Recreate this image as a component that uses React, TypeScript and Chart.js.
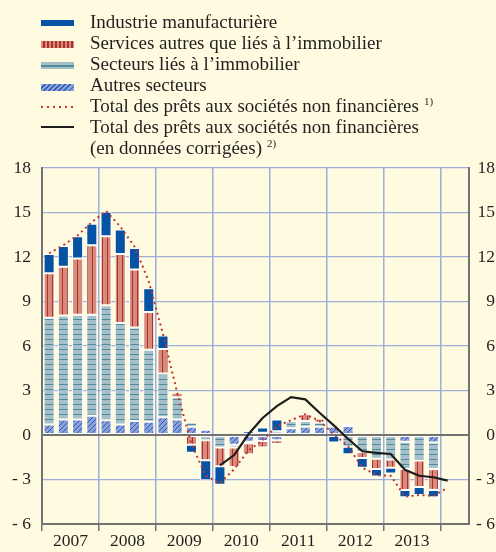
import React, { useEffect, useRef } from 'react';
import { Chart, registerables } from 'chart.js';

Chart.register(...registerables);

// ---- Data (annual growth contributions, percentage points) ----
const quarters = [
  '2007 T1', '2007 T2', '2007 T3', '2007 T4',
  '2008 T1', '2008 T2', '2008 T3', '2008 T4',
  '2009 T1', '2009 T2', '2009 T3', '2009 T4',
  '2010 T1', '2010 T2', '2010 T3', '2010 T4',
  '2011 T1', '2011 T2', '2011 T3', '2011 T4',
  '2012 T1', '2012 T2', '2012 T3', '2012 T4',
  '2013 T1', '2013 T2', '2013 T3', '2013 T4',
  '2014 T1',
];
const years = ['2007', '2008', '2009', '2010', '2011', '2012', '2013'];
const yTicks = [-6, -3, 0, 3, 6, 9, 12, 15, 18];

const industrie = [1.3, 1.4, 1.5, 1.45, 1.65, 1.65, 1.45, 1.6, 0.9, 0, -0.55, -1.35, -1.25, 0, 0.25, 0.35, 0.8, 0, 0.1, 0, -0.5, -0.5, -0.65, -0.5, -0.4, -0.5, -0.55, -0.5];
const services = [3.0, 3.3, 3.8, 4.7, 4.65, 4.65, 3.9, 2.55, 1.65, 0.3, -0.65, -1.35, -1.25, -1.3, -0.75, -0.45, -0.25, 0, 0.45, 0.25, 0.15, 0.15, -0.4, -0.7, -0.55, -1.4, -1.78, -1.4];
const immobilier = [7.2, 7.0, 7.05, 6.8, 7.75, 6.85, 6.3, 4.85, 2.95, 1.5, 0.3, -0.35, -0.85, -0.2, -0.1, 0.15, 0.25, 0.5, 0.4, 0.3, 0, -0.8, -1.15, -1.6, -1.65, -1.85, -1.72, -1.8];
const autres = [0.7, 1.05, 1.05, 1.3, 1.0, 0.7, 0.95, 0.9, 1.2, 1.05, 0.55, 0.35, 0, -0.65, -0.45, -0.4, -0.35, 0.45, 0.55, 0.55, 0.55, 0.6, 0, 0, 0, -0.45, 0, -0.5];
const totalPrets = [12.25, 12.8, 13.45, 14.35, 15.1, 14.05, 12.7, 10.35, 6.8, 2.85, -0.6, -2.75, -3.25, -2.3, -1.05, -0.35, 0.6, 1.0, 1.4, 0.95, 0.05, -0.75, -2.2, -2.7, -2.75, -4.15, -4.05, -4.1, -3.55];
const totalCorriges = [null, null, null, null, null, null, null, null, null, null, null, null, -2.05, -1.35, 0.05, 1.15, 1.95, 2.55, 2.4, 1.5, 0.65, -0.25, -1.1, -1.2, -1.28, -2.35, -2.75, -2.85, -3.08];

const LBL_IND = 'Industrie manufacturière';
const LBL_SERV = 'Services autres que liés à l’immobilier';
const LBL_IMMO = 'Secteurs liés à l’immobilier';
const LBL_AUT = 'Autres secteurs';
const LBL_TOT = 'Total des prêts aux sociétés non financières';
const LBL_TOT2 = '(en données corrigées)';

// ---- Styles ----
const FONT = "'Liberation Serif', 'Times New Roman', serif";
const TEXT = '#231f20';
const BG = '#fffbe0';
const GRID = '#9eaedb';
const AXIS = '#727272';
const BLUE = '#0652a4';
const PINK = '#d68b7c';
const PINK_STRIPE = '#b0302a';
const IMMO_LIGHT = '#a6c0c9';
const IMMO_DARK = '#4e8b9b';
const AUT_FILL = '#8aa0d8';
const AUT_LINE = '#2f5ab2';
const RED = '#c2342c';
const BLACK = '#1d1d1b';

function makePattern(w: number, h: number, bg: string, fg: string, draw: (g: CanvasRenderingContext2D) => void) {
  const c = document.createElement('canvas');
  c.width = w;
  c.height = h;
  const g = c.getContext('2d') as CanvasRenderingContext2D;
  g.fillStyle = bg;
  g.fillRect(0, 0, w, h);
  g.fillStyle = fg;
  draw(g);
  return g.createPattern(c, 'repeat') as CanvasPattern;
}

const toPoints = (vals: (number | null)[]) => vals.map((v, i) => ({ x: i + 0.5, y: v }));

function Swatch({ kind }: { kind: string }) {
  const base: React.CSSProperties = { position: 'absolute', left: 41, width: 33 };
  if (kind === 'ind') return <span style={{ ...base, top: 9, height: 6, background: BLUE }} />;
  if (kind === 'serv')
    return (
      <span
        style={{
          ...base,
          top: 9,
          height: 7,
          background: `repeating-linear-gradient(90deg, ${PINK} 0px, ${PINK} 2.5px, ${PINK_STRIPE} 2.5px, ${PINK_STRIPE} 4px)`,
        }}
      />
    );
  if (kind === 'immo')
    return (
      <span
        style={{
          ...base,
          top: 9,
          height: 7,
          background: `linear-gradient(to bottom, ${IMMO_LIGHT} 0px, ${IMMO_LIGHT} 2.5px, ${IMMO_DARK} 2.5px, ${IMMO_DARK} 4.5px, ${IMMO_LIGHT} 4.5px, ${IMMO_LIGHT} 7px)`,
        }}
      />
    );
  if (kind === 'aut')
    return (
      <span
        style={{
          ...base,
          top: 10,
          height: 7,
          background: `repeating-linear-gradient(135deg, ${AUT_FILL} 0px, ${AUT_FILL} 2.5px, ${AUT_LINE} 2.5px, ${AUT_LINE} 3.6px)`,
        }}
      />
    );
  if (kind === 'dot')
    return (
      <span
        style={{
          ...base,
          top: 11,
          height: 2,
          background: `repeating-linear-gradient(90deg, ${RED} 0px, ${RED} 2px, transparent 2px, transparent 6px)`,
        }}
      />
    );
  if (kind === 'line') return <span style={{ ...base, top: 10.5, height: 2, background: BLACK }} />;
  return null;
}

const sup: React.CSSProperties = { fontSize: 11, position: 'relative', top: -7, marginLeft: 5 };

function Legend() {
  const rows: { kind: string; text: string; note?: string }[] = [
    { kind: 'ind', text: LBL_IND },
    { kind: 'serv', text: LBL_SERV },
    { kind: 'immo', text: LBL_IMMO },
    { kind: 'aut', text: LBL_AUT },
    { kind: 'dot', text: LBL_TOT, note: '1)' },
    { kind: 'line', text: LBL_TOT },
    { kind: '', text: LBL_TOT2, note: '2)' },
  ];
  return (
    <div style={{ position: 'absolute', left: 0, top: 0, width: 496, height: 160, fontFamily: FONT, color: TEXT }}>
      {rows.map((r, k) => (
        <div key={k} style={{ position: 'absolute', left: 0, top: 11 + k * 20.95, width: 496, height: 21 }}>
          <Swatch kind={r.kind} />
          <span style={{ position: 'absolute', left: 90, top: 0, fontSize: 19, lineHeight: '21px', whiteSpace: 'nowrap' }}>
            {r.text}
            {r.note ? <span style={sup}>{r.note}</span> : null}
          </span>
        </div>
      ))}
    </div>
  );
}

export default function App() {
  const canvasRef = useRef<HTMLCanvasElement>(null);

  useEffect(() => {
    const canvas = canvasRef.current;
    if (!canvas) return;

    const patServ = makePattern(5, 1, PINK, PINK_STRIPE, (g) => g.fillRect(2, 0, 1, 1));
    const patImmo = makePattern(1, 5, IMMO_LIGHT, IMMO_DARK, (g) => g.fillRect(0, 4, 1, 1));
    const patAut = makePattern(5, 5, AUT_FILL, AUT_LINE, (g) => {
      for (let i = 0; i < 5; i++) g.fillRect(i, 4 - i, 1, 1);
    });

    const barCommon = {
      type: 'bar' as const,
      borderColor: '#ffffff',
      borderWidth: 1,
      borderSkipped: false as const,
      stack: 'secteurs',
      barPercentage: 0.97,
      categoryPercentage: 0.8,
    };

    const tickFont = { family: FONT, size: 17.5, lineHeight: 1.2 };
    const fmt = (v: number | string) => {
      const n = Number(v);
      return n < 0 ? '- ' + Math.abs(n) : String(n);
    };

    const chart = new Chart(canvas, {
      type: 'bar',
      data: {
        labels: quarters,
        datasets: [
          {
            type: 'line',
            label: LBL_TOT + ' 1)',
            data: toPoints(totalPrets),
            borderColor: RED,
            borderWidth: 2,
            borderDash: [2, 3.5],
            pointRadius: 0,
            fill: false,
            tension: 0,
            stack: 'total1',
          } as any,
          {
            type: 'line',
            label: LBL_TOT + ' ' + LBL_TOT2 + ' 2)',
            data: toPoints(totalCorriges),
            borderColor: BLACK,
            borderWidth: 2.2,
            pointRadius: 0,
            fill: false,
            tension: 0,
            stack: 'total2',
          } as any,
          { ...barCommon, label: LBL_AUT, data: toPoints(autres), backgroundColor: patAut } as any,
          { ...barCommon, label: LBL_IMMO, data: toPoints(immobilier), backgroundColor: patImmo } as any,
          { ...barCommon, label: LBL_SERV, data: toPoints(services), backgroundColor: patServ } as any,
          { ...barCommon, label: LBL_IND, data: toPoints(industrie), backgroundColor: BLUE } as any,
        ],
      },
      options: {
        responsive: false,
        animation: false,
        layout: { padding: { top: 168, bottom: 0, left: 0, right: 1 } },
        plugins: { legend: { display: false }, tooltip: { enabled: false } },
        scales: {
          x: {
            type: 'linear',
            min: 0,
            max: quarters.length + 1,
            offset: false,
            stacked: true,
            afterBuildTicks: (s: any) => {
              const t: { value: number }[] = [];
              for (let v = 0; v <= years.length * 4; v += 2) t.push({ value: v });
              s.ticks = t;
            },
            ticks: {
              autoSkip: false,
              maxRotation: 0,
              minRotation: 0,
              padding: 0,
              color: TEXT,
              font: tickFont,
              callback: (v: any) => {
                const q = Number(v);
                return q % 4 === 2 ? years[(q - 2) / 4] ?? '' : '';
              },
            },
            grid: {
              offset: false,
              color: (c: any) => (c.tick && c.tick.value % 4 === 0 && c.tick.value > 0 ? GRID : 'rgba(0,0,0,0)'),
              lineWidth: 1.5,
              tickColor: (c: any) => (c.tick && c.tick.value % 4 === 0 ? AXIS : 'rgba(0,0,0,0)'),
              tickLength: 7,
              tickWidth: 1.5,
            },
            border: { color: AXIS, width: 2 },
          },
          y: {
            stacked: true,
            min: yTicks[0],
            max: yTicks[yTicks.length - 1],
            afterBuildTicks: (s: any) => {
              s.ticks = yTicks.map((v) => ({ value: v }));
            },
            afterFit: (s: any) => {
              s.width = 42;
            },
            ticks: { padding: 11, color: TEXT, font: tickFont, callback: fmt },
            grid: {
              color: (c: any) => (c.tick && (c.tick.value === 0 || c.tick.value === yTicks[0]) ? AXIS : GRID),
              lineWidth: (c: any) => (c.tick && c.tick.value === 0 ? 2 : 1.3),
              drawTicks: false,
            },
            border: { color: AXIS, width: 2 },
          },
          y2: {
            position: 'right',
            min: yTicks[0],
            max: yTicks[yTicks.length - 1],
            afterBuildTicks: (s: any) => {
              s.ticks = yTicks.map((v) => ({ value: v }));
            },
            afterFit: (s: any) => {
              s.width = 26;
            },
            ticks: { padding: 8, crossAlign: 'far', color: TEXT, font: tickFont, callback: fmt },
            grid: { display: false, drawTicks: false },
            border: { color: AXIS, width: 2 },
          },
        },
      } as any,
    });

    return () => chart.destroy();
  }, []);

  return (
    <div style={{ position: 'absolute', left: 0, top: 0, width: 496, height: 552, background: BG, overflow: 'hidden' }}>
      <canvas ref={canvasRef} width={496} height={552} style={{ position: 'absolute', left: 0, top: 0 }} />
      <Legend />
    </div>
  );
}
